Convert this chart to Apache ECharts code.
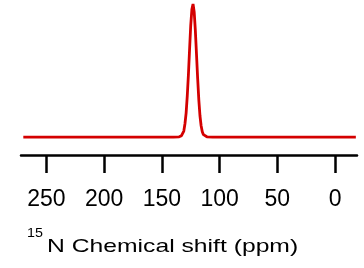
<!DOCTYPE html>
<html>
<head>
<meta charset="utf-8">
<script src="https://cdn.jsdelivr.net/npm/echarts@6/dist/echarts.min.js"></script>
<style>
  html, body { margin: 0; padding: 0; background: #fff; }
  #chart { width: 364px; height: 268px; }
</style>
</head>
<body>
<div id="chart"></div>
<script>
  // 15N spectrum (ppm, relative intensity)
  var shiftPpm = [270, 200, 150, 140, 135, 133, 131, 130, 129, 128, 127, 126, 125, 124, 123,
                  122, 121, 120, 119, 118, 117, 116, 115, 114, 113, 111, 106, 90, 50, 0, -18];
  var intensity = [0, 0, 0, 0, 0.2, 1, 4.5, 10, 18, 31, 47, 66, 84, 96, 100,
                   94, 80, 62, 44, 28, 16, 8.5, 4, 1.8, 0.8, 0.2, 0, 0, 0, 0, 0];
  var tickValues = [250, 200, 150, 100, 50, 0];
  var axisLabel = 'N Chemical shift (ppm)';
  var isotope = '15';

  var points = shiftPpm.map(function (p, i) { return [p, intensity[i]]; });

  var chart = echarts.init(document.getElementById('chart'));
  chart.setOption({
    animation: false,
    grid: { left: 21, right: 7, top: 4, bottom: 113 },
    xAxis: {
      type: 'value',
      inverse: true,
      min: -19,
      max: 272,
      splitLine: { show: false },
      axisLine: { show: true, onZero: false, lineStyle: { color: '#000', width: 2.5 } },
      axisTick: {
        show: true,
        customValues: tickValues,
        length: 18,
        lineStyle: { color: '#000', width: 2.5 }
      },
      axisLabel: {
        customValues: tickValues,
        margin: 33,
        color: '#000',
        fontSize: 23,
        fontFamily: 'Liberation Sans, Arial, sans-serif'
      }
    },
    yAxis: {
      type: 'value',
      min: -13.5,
      max: 100,
      show: false
    },
    graphic: [
      {
        type: 'text',
        left: 27,
        top: 227,
        style: {
          text: isotope,
          fontSize: 13,
          fontFamily: 'Liberation Sans, Arial, sans-serif',
          fill: '#000'
        },
        scaleX: 1.1
      },
      {
        type: 'text',
        x: 47,
        y: 247,
        style: {
          text: axisLabel,
          fontSize: 19,
          fontFamily: 'Liberation Sans, Arial, sans-serif',
          fill: '#000',
          verticalAlign: 'middle'
        },
        scaleX: 1.3
      }
    ],
    series: [{
      type: 'line',
      data: points,
      showSymbol: false,
      smooth: false,
      lineStyle: { color: '#d40000', width: 2.8 }
    }]
  });
</script>
</body>
</html>
